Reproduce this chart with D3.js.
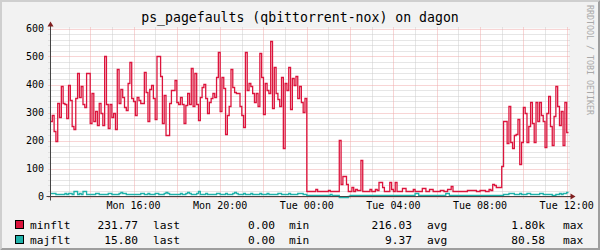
<!DOCTYPE html>
<html>
<head>
<meta charset="utf-8">
<script src="https://cdn.jsdelivr.net/npm/d3@7"></script>
<style>
  body { margin: 0; background: #f2f2f2; }
  svg { display: block; }
  text { font-family: "DejaVu Sans Mono", monospace; }
</style>
</head>
<body>
<div class="rrd_viz"></div>
<script>
var title = "ps_pagefaults (qbittorrent-nox) on dagon";
var seriesNames = ["minflt", "majflt"];
var seriesColors = ["#dc143c", "#20b2aa"];

// 5 minute samples, starting Mon 12:10
var minflt = [
  270,290,235,200,335,285,395,335,330,280,
  400,345,250,240,350,440,355,395,330,320,
  440,440,262,370,270,305,255,335,300,255,
  500,330,245,330,285,300,240,455,335,385,
  355,320,310,405,480,350,340,292,357,345,
  333,333,446,375,268,384,400,351,276,500,
  500,431,262,363,220,220,333,381,381,417,
  339,330,357,330,262,327,369,330,458,322,
  440,330,274,357,390,401,351,300,339,351,
  369,355,428,517,306,428,387,224,292,322,
  455,390,375,369,369,324,292,248,517,381,
  407,393,371,339,369,324,512,428,295,407,
  381,369,557,316,464,369,348,322,428,172,
  405,381,464,312,422,399,431,351,393,339,
  303,351,21,21,21,19,19,27,19,19,
  19,19,19,19,22,19,19,19,19,19,
  202,45,72,75,45,19,19,33,21,27,
  24,24,129,21,21,21,21,27,21,21,
  27,24,51,51,33,21,21,21,53,27,
  21,51,21,21,21,31,31,21,21,21,
  21,27,19,19,19,19,31,31,21,21,
  27,27,19,19,19,19,24,24,21,21,
  27,27,36,19,19,19,19,19,19,19,
  19,22,22,22,22,22,21,21,24,24,
  24,19,19,27,24,45,41,33,33,33,
  109,271,268,190,324,196,172,220,224,276,
  117,196,319,298,196,252,336,262,196,339,
  268,339,292,268,178,298,359,250,184,288,
  393,324,255,307,184,336,232
];
var majflt = [
  12,12,12,8,8,8,8,10,12,10,
  14,12,10,20,20,10,12,10,18,18,
  8,8,8,8,10,12,12,8,8,8,
  8,10,12,14,8,8,8,8,14,16,
  12,12,8,8,8,10,8,8,10,8,
  12,12,10,8,14,10,8,8,12,12,
  8,8,10,12,16,12,10,8,8,10,
  8,10,14,10,8,12,16,12,8,8,
  10,14,18,10,8,8,12,10,8,10,
  8,8,12,14,10,8,10,12,8,8,
  10,12,16,12,8,8,10,14,10,8,
  8,12,10,8,8,10,14,10,8,8,
  12,10,8,10,8,8,12,14,10,8,
  8,10,12,10,8,8,10,12,13,13,
  10,10,7,7,7,7,5,5,5,7,
  7,7,7,7,7,10,5,5,5,5,
  0,0,0,0,0,1,7,7,7,7,
  7,7,7,7,5,7,7,7,7,5,
  7,7,7,7,7,7,7,7,7,7,
  7,7,7,7,7,7,7,7,7,7,
  7,7,12,12,7,7,7,7,7,7,
  7,7,7,7,7,7,7,7,7,12,
  12,7,7,7,7,7,5,7,7,7,
  7,7,7,7,7,7,7,7,7,7,
  7,7,7,7,7,7,7,7,7,7,
  7,10,10,8,12,14,14,10,9,10,
  12,10,9,9,12,12,10,9,9,9,
  8,12,11,10,10,9,9,9,7,7,
  9,10,12,10,12,14,15.8
];

var yTicks = [0, 100, 200, 300, 400, 500, 600];
var legendLast = ["231.77", "15.80"];
var legendMin = ["0.00", "0.00"];
var legendAvg = ["216.03", "9.37"];
var legendMax = ["1.80k", "80.58"];

var startTime = new Date(2023, 0, 2, 12, 10); // a Monday
var stepMs = 5 * 60 * 1000;

var width = 600, height = 250;
var x0 = 50.5, xsize = 518, y0 = 196.5, ysize = 168;

var viz = d3.select(".rrd_viz");
var svg = viz.append("svg")
  .attr("width", width)
  .attr("height", height);

var endTime = new Date(startTime.getTime() + minflt.length * stepMs);
var x = d3.scaleTime().domain([startTime, endTime]).range([x0, x0 + xsize]);
var y = d3.scaleLinear().domain([0, 600]).range([y0, y0 - ysize]);

// background + 3d frame
svg.append("rect").attr("width", width).attr("height", height).attr("fill", "#f2f2f2");
svg.append("polygon")
  .attr("points", [[0,0],[width,0],[width-2,2],[2,2],[2,height-2],[0,height]].join(" "))
  .attr("fill", "#cfcfcf");
svg.append("polygon")
  .attr("points", [[0,height],[width,height],[width,0],[width-2,2],[width-2,height-2],[2,height-2]].join(" "))
  .attr("fill", "#9e9e9e");

// canvas
svg.append("rect")
  .attr("x", x0).attr("y", y0 - ysize)
  .attr("width", xsize).attr("height", ysize)
  .attr("fill", "#ffffff");

var grid = svg.append("g").attr("stroke-dasharray", "1,1").attr("stroke-width", 1);

// minor grid
var minorY = d3.range(0, 601, 20).filter(function(v) { return yTicks.indexOf(v) < 0; });
grid.selectAll(".hmin").data(minorY).enter().append("line")
  .attr("x1", x0 - 2).attr("x2", x0 + xsize + 2)
  .attr("y1", function(d) { return Math.round(y(d)) + 0.5; })
  .attr("y2", function(d) { return Math.round(y(d)) + 0.5; })
  .attr("stroke", "#cccccc");
var hours = x.ticks(d3.timeHour.every(1));
var twoHours = x.ticks(d3.timeHour.every(2)).map(function(d) { return +d; });
grid.selectAll(".vmin").data(hours.filter(function(d) { return twoHours.indexOf(+d) < 0; })).enter().append("line")
  .attr("x1", function(d) { return Math.round(x(d)) + 0.5; })
  .attr("x2", function(d) { return Math.round(x(d)) + 0.5; })
  .attr("y1", y0 + 2).attr("y2", y0 - ysize - 2)
  .attr("stroke", "#cccccc");

// major grid
grid.selectAll(".hmaj").data(yTicks).enter().append("line")
  .attr("x1", x0 - 2).attr("x2", x0 + xsize + 2)
  .attr("y1", function(d) { return Math.round(y(d)) + 0.5; })
  .attr("y2", function(d) { return Math.round(y(d)) + 0.5; })
  .attr("stroke", "#f0aaaa");
grid.selectAll(".vmaj").data(x.ticks(d3.timeHour.every(2))).enter().append("line")
  .attr("x1", function(d) { return Math.round(x(d)) + 0.5; })
  .attr("x2", function(d) { return Math.round(x(d)) + 0.5; })
  .attr("y1", y0 + 2).attr("y2", y0 - ysize - 2)
  .attr("stroke", "#f0aaaa");

// data lines
function points(vals) {
  var pts = vals.map(function(v, i) { return { t: new Date(startTime.getTime() + i * stepMs), v: v }; });
  pts.push({ t: endTime, v: vals[vals.length - 1] });
  return pts;
}
var line = d3.line()
  .x(function(d) { return x(d.t); })
  .y(function(d) { return Math.round(y(d.v)) + 0.5; })
  .curve(d3.curveStepAfter);

[minflt, majflt].forEach(function(vals, k) {
  svg.append("path")
    .datum(points(vals))
    .attr("d", line)
    .attr("fill", "none")
    .attr("stroke", seriesColors[k])
    .attr("stroke-width", 1.3);
});

// axes
svg.append("line")
  .attr("x1", x0 - 4).attr("x2", x0 + xsize + 4)
  .attr("y1", y0).attr("y2", y0)
  .attr("stroke", "#444").attr("stroke-width", 1);
svg.append("line")
  .attr("x1", x0).attr("x2", x0)
  .attr("y1", y0 + 4).attr("y2", y0 - ysize - 4)
  .attr("stroke", "#444").attr("stroke-width", 1);
svg.append("polygon")
  .attr("points", [[x0 + xsize + 2, y0 - 3], [x0 + xsize + 2, y0 + 3], [x0 + xsize + 7, y0]].join(" "))
  .attr("fill", "#801f1f");
svg.append("polygon")
  .attr("points", [[x0 - 3, y0 - ysize - 2], [x0 + 3, y0 - ysize - 2], [x0, y0 - ysize - 7]].join(" "))
  .attr("fill", "#801f1f");

// y labels
svg.selectAll(".ylab").data(yTicks).enter().append("text")
  .attr("x", 44)
  .attr("y", function(d) { return y(d) + 3.5; })
  .attr("text-anchor", "end")
  .attr("font-size", "10px")
  .attr("fill", "#000")
  .text(function(d) { return d; });

// x labels
var fmt = d3.timeFormat("%a %H:%M");
svg.selectAll(".xlab").data(x.ticks(d3.timeHour.every(4))).enter().append("text")
  .attr("x", function(d) { return x(d); })
  .attr("y", 209)
  .attr("text-anchor", "middle")
  .attr("font-size", "10px")
  .attr("fill", "#000")
  .text(function(d) { return fmt(d); });

// title
svg.append("text")
  .attr("x", 300).attr("y", 22)
  .attr("text-anchor", "middle")
  .attr("font-size", "13.2px")
  .attr("fill", "#000")
  .text(title);

// watermark on the right
svg.append("text")
  .attr("transform", "translate(587,5) rotate(90)")
  .attr("font-size", "8.3px")
  .attr("fill", "#a9a9a9")
  .text("RRDTOOL / TOBI OETIKER");

// legend
var legendY = [229, 244];
seriesNames.forEach(function(name, k) {
  var ly = legendY[k];
  var g = svg.append("g").attr("font-size", "11.2px").attr("fill", "#000");
  g.append("rect")
    .attr("x", 15.5).attr("y", ly - 8.5)
    .attr("width", 8).attr("height", 8)
    .attr("fill", seriesColors[k])
    .attr("stroke", "#000").attr("stroke-width", 1);
  g.append("text").attr("x", 30).attr("y", ly).text(name);
  g.append("text").attr("x", 138).attr("y", ly).attr("text-anchor", "end").text(legendLast[k]);
  g.append("text").attr("x", 153).attr("y", ly).text("last");
  g.append("text").attr("x", 275).attr("y", ly).attr("text-anchor", "end").text(legendMin[k]);
  g.append("text").attr("x", 289).attr("y", ly).text("min");
  g.append("text").attr("x", 412).attr("y", ly).attr("text-anchor", "end").text(legendAvg[k]);
  g.append("text").attr("x", 427).attr("y", ly).text("avg");
  g.append("text").attr("x", 545).attr("y", ly).attr("text-anchor", "end").text(legendMax[k]);
  g.append("text").attr("x", 563).attr("y", ly).text("max");
});
</script>
</body>
</html>
